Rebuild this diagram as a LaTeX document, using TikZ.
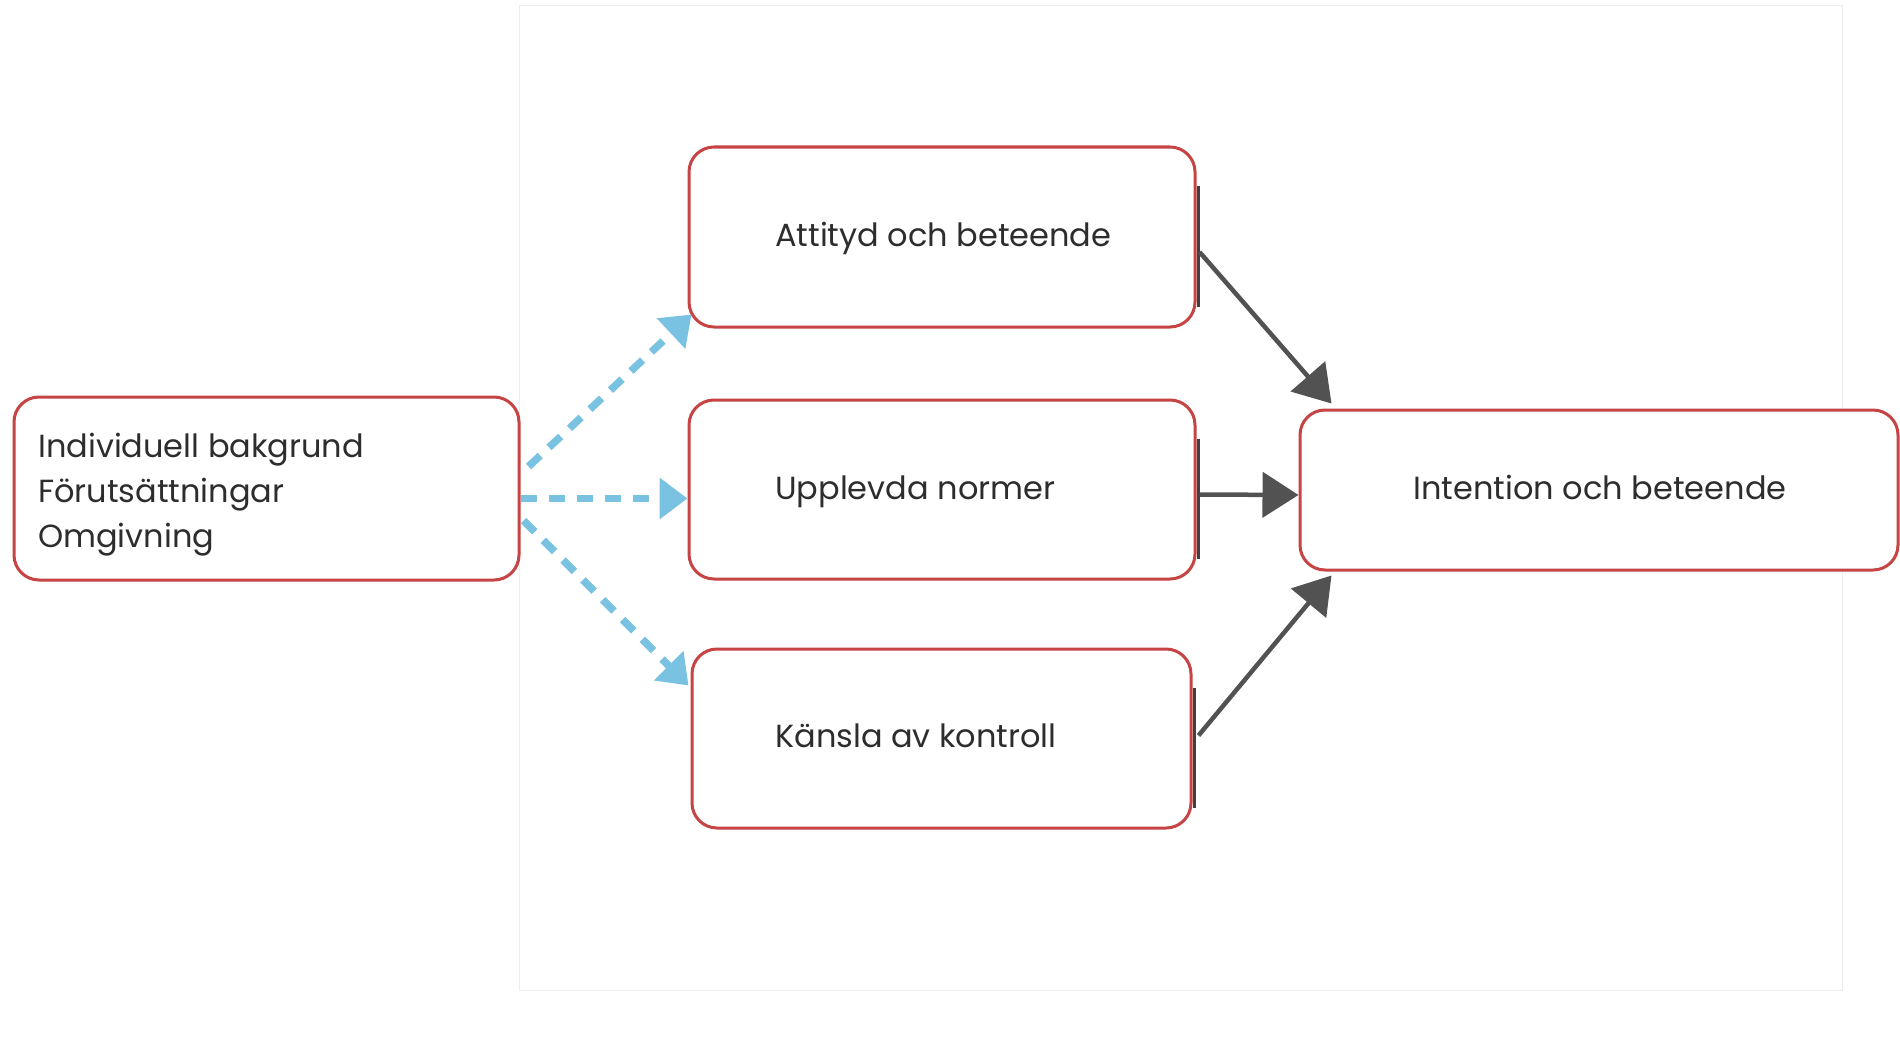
\documentclass[tikz,border=0pt]{standalone}
\usepackage{fontspec}
\setmainfont{Poppins}
\usetikzlibrary{arrows.meta,calc}
\definecolor{boxred}{RGB}{198,68,68}
\definecolor{arrowblue}{RGB}{122,194,226}
\definecolor{arrowgray}{RGB}{82,82,82}
\definecolor{txt}{RGB}{45,45,45}
\definecolor{framegray}{RGB}{238,238,238}
\begin{document}
\begin{tikzpicture}[x=1pt,y=-1pt,
  box/.style={draw=boxred, line width=3pt, rounded corners=25pt, fill=white, inner sep=0pt},
  lbl/.style={text=txt, font=\fontsize{32}{45}\selectfont, inner sep=0pt},
  shade/.style={draw=black!75, line width=2.5pt},
  bluearrow/.style={draw=arrowblue, line width=7.5pt, dash pattern=on 16pt off 12pt,
    -{Triangle[length=28pt,width=40pt]}},
  grayarrow/.style={draw=arrowgray, line width=4.5pt,
    -{Triangle[length=36pt,width=45pt]}}
]
\useasboundingbox (0,0) rectangle (1900,1038);
\fill[white] (0,0) rectangle (1900,1038);
% faint frame of the background
\draw[framegray, line width=1pt] (519,6) -- (1842,6) -- (1842,990) -- (519,990) -- cycle;

% boxes
\node[box, minimum width=505pt, minimum height=183pt] (bg)  at (266.5,488.5) {};
\node[box, minimum width=506pt, minimum height=180pt] (att) at (942,237) {};
\node[box, minimum width=506pt, minimum height=179pt] (upp) at (942,489.5) {};
\node[box, minimum width=499pt, minimum height=179pt] (kan) at (941.5,738.5) {};
\node[box, minimum width=598pt, minimum height=160pt] (int) at (1599,490) {};

% dark edge on the right of the middle boxes
\draw[shade] ([xshift=2pt,yshift=-40pt]att.north east) -- ([xshift=2pt,yshift=22pt]att.south east);
\draw[shade] ([xshift=2pt,yshift=-40pt]upp.north east) -- ([xshift=2pt,yshift=22pt]upp.south east);
\draw[shade] ([xshift=2pt,yshift=-40pt]kan.north east) -- ([xshift=2pt,yshift=22pt]kan.south east);

% texts
\node[lbl, anchor=base west] (t1) at (38,457) {Individuell bakgrund};
\node[lbl, anchor=base west] (t2) at (38,502) {Förutsättningar};
\node[lbl, anchor=base west] (t3) at (38,547) {Omgivning};
\node[lbl, anchor=base west] (tatt) at (775,246) {Attityd och beteende};
\node[lbl, anchor=base west] (tupp) at (775,499) {Upplevda normer};
\node[lbl, anchor=base west] (tkan) at (775,747) {Känsla av kontroll};
\node[lbl, anchor=base] (tint) at (1600,499) {Intention och beteende};

% blue dashed arrows
\draw[bluearrow] ([xshift=8pt,yshift=22pt]bg.east) -- ([xshift=4pt,yshift=14pt]att.south west);
\draw[bluearrow] ([yshift=-10pt]bg.east) -- ([yshift=-9pt]upp.west);
\draw[bluearrow] ([xshift=3pt,yshift=-32pt]bg.east) -- ([xshift=-2pt,yshift=-38pt]kan.north west);

% gray arrows
\draw[grayarrow] ([xshift=3pt,yshift=-15pt]att.east) -- ([xshift=33pt,yshift=5pt]int.north west);
\draw[grayarrow] ([xshift=3pt,yshift=-5pt]upp.east) -- ([yshift=-5pt]int.west);
\draw[grayarrow] ([xshift=6pt,yshift=3pt]kan.east) -- ([xshift=33pt,yshift=-4pt]int.south west);
\end{tikzpicture}
\end{document}
